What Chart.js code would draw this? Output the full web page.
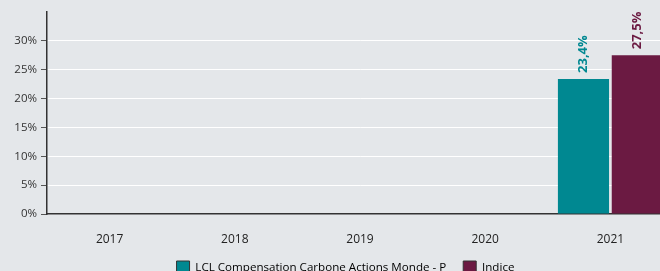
<!DOCTYPE html>
<html>
<head>
<meta charset="utf-8">
<script src="https://cdn.jsdelivr.net/npm/chart.js@4"></script>
<style>
  html, body { margin: 0; padding: 0; background: #e4e7ea; overflow: hidden; }
  #wrap { width: 700px; height: 284px; }
</style>
</head>
<body>
<div id="wrap"><canvas id="chartPerf"></canvas></div>
<script>
const years = ["2017", "2018", "2019", "2020", "2021"];
const fundValues = [null, null, null, null, 23.4];
const indexValues = [null, null, null, null, 27.5];
const seriesNames = ["LCL Compensation Carbone Actions Monde - P", "Indice"];
const yTicks = [0, 5, 10, 15, 20, 25, 30];

const TEAL = "#008891";
const MAROON = "#6b1a42";

// étiquettes verticales au-dessus des barres
const barLabels = {
    id: "barLabels",
    afterDatasetsDraw(chart) {
        const ctx = chart.ctx;
        chart.data.datasets.forEach((ds, i) => {
            const meta = chart.getDatasetMeta(i);
            meta.data.forEach((bar, j) => {
                const v = ds.data[j];
                if (v == null) return;
                ctx.save();
                ctx.translate(bar.x, bar.y - 6);
                ctx.rotate(-Math.PI / 2);
                ctx.font = "bold 13px 'Open Sans'";
                ctx.fillStyle = ds.backgroundColor;
                ctx.textAlign = "left";
                ctx.textBaseline = "middle";
                ctx.fillText(v.toFixed(1).replace(".", ",") + "%", 0, 0);
                ctx.restore();
            });
        });
    }
};

// décale la légende pour la centrer comme l'original
const legendShift = {
    id: "legendShift",
    afterLayout(chart) {
        if (chart.legend) {
            chart.legend.left += 9;
            chart.legend.right += 9;
        }
    }
};

const el = document.getElementById("chartPerf");
new Chart(el, {
    type: "bar",
    data: {
        labels: years,
        datasets: [{
            label: seriesNames[0],
            data: fundValues,
            backgroundColor: TEAL,
            borderWidth: 0,
            categoryPercentage: 0.86,
            barPercentage: 0.95
        }, {
            label: seriesNames[1],
            data: indexValues,
            backgroundColor: MAROON,
            borderWidth: 0,
            categoryPercentage: 0.86,
            barPercentage: 0.95
        }]
    },
    options: {
        responsive: true,
        maintainAspectRatio: false,
        animation: false,
        layout: { padding: { top: 12, right: 27, left: 0, bottom: 0 } },
        plugins: {
            tooltip: { enabled: false },
            legend: {
                position: "bottom",
                labels: {
                    font: { family: "'Open Sans'", size: 11.6 },
                    color: "#222",
                    boxWidth: 13,
                    boxHeight: 13,
                    padding: 17,
                    generateLabels(chart) {
                        return chart.data.datasets.map((ds, i) => ({
                            text: ds.label,
                            fillStyle: ds.backgroundColor,
                            strokeStyle: "#333",
                            lineWidth: 1,
                            datasetIndex: i
                        }));
                    }
                }
            }
        },
        scales: {
            x: {
                grid: { display: false },
                border: { color: "#333", width: 1.5 },
                ticks: {
                    font: { family: "'Open Sans'", size: 12 },
                    color: "#222",
                    padding: 10
                },
                afterFit(axis) { axis.height = 30; }
            },
            y: {
                min: 0,
                max: 35,
                afterBuildTicks(axis) {
                    axis.ticks = yTicks.concat([35]).map(v => ({ value: v }));
                },
                afterFit(axis) { axis.width = 47; },
                ticks: {
                    font: { family: "'Open Sans'", size: 11.5 },
                    color: "#333",
                    padding: 4,
                    callback: v => v === 35 ? "" : v + "%"
                },
                grid: {
                    color: c => (c.tick && (c.tick.value === 35 || c.tick.value === 0)) ? "rgba(0,0,0,0)" : "#ffffff",
                    tickColor: c => (c.tick && c.tick.value === 35) ? "rgba(0,0,0,0)" : "#555",
                    tickLength: 6,
                    lineWidth: 1
                },
                border: { color: "#333", width: 1.5 }
            }
        }
    },
    plugins: [barLabels, legendShift]
});
</script>
</body>
</html>
